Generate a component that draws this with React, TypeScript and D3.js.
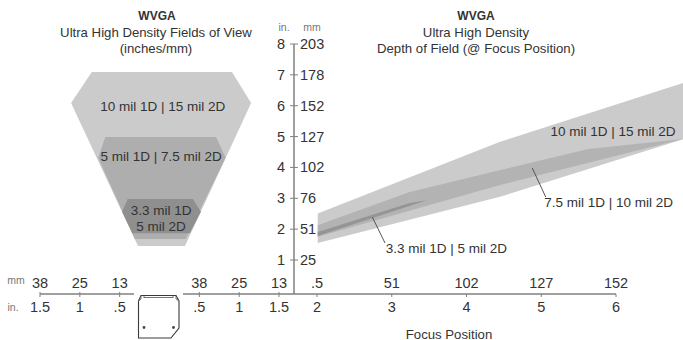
import React from "react";
import * as d3 from "d3";

const FONT = "'Liberation Sans', Arial, sans-serif";
const INK = "#333333";
const AXIS = "#808080";
const NUM = 14.5;
const TITLE = 13.2;

// Vertical scale (inches / mm)
const heightInches = [1, 2, 3, 4, 5, 6, 7, 8];
const heightMm = [25, 51, 76, 102, 127, 152, 178, 203];

// Horizontal field-of-view axis
const fovLeftInches = [-1.5, -1, -0.5];
const fovLeftInLabels = ["1.5", "1", ".5"];
const fovLeftMmLabels = ["38", "25", "13"];
const fovRightInches = [0.5, 1, 1.5];
const fovRightInLabels = [".5", "1", "1.5"];
const fovRightMmLabels = ["38", "25", "13"];

// Focus position axis
const focusInches = [2, 3, 4, 5, 6];
const focusInLabels = ["2", "3", "4", "5", "6"];
const focusMmLabels = [".5", "51", "102", "127", "152"];

type P = [number, number];

// Field of view polygons: [offset inches, height inches]
const fovWide: P[] = [[-0.85, 7.09], [0.91, 7.09], [1.15, 6.09], [0.32, 1.45], [-0.27, 1.45], [-1.11, 6.09]];
const fovMid: P[] = [[-0.68, 4.99], [0.71, 4.99], [0.83, 4.31], [0.33, 1.68], [-0.31, 1.68], [-0.77, 4.31]];
const fovNarrow: P[] = [[-0.4, 2.98], [0.42, 2.98], [0.52, 2.56], [0.38, 1.87], [-0.34, 1.87], [-0.47, 2.56]];

// Depth of field polygons: [focus inches, depth inches]
const dofWide: P[] = [[2.01, 2.51], [4.45, 4.83], [6.9, 6.74], [6.9, 4.92], [4.45, 3.05], [2.01, 1.55]];
const dofMid: P[] = [[2.01, 2.13], [3.24, 3.2], [5.63, 4.6], [6.9, 4.92], [4.45, 3.43], [2.01, 1.75]];
const dofNarrow: P[] = [[2.01, 1.91], [3.24, 2.85], [3.47, 2.94], [2.01, 1.78]];

const leaderNarrow: P[] = [[2.74, 2.39], [2.91, 1.55]];
const leaderMid: P[] = [[4.88, 3.98], [5.06, 3.04]];

const COLORS = { wide: "#cbcbcb", mid: "#aeaeae", narrow: "#8f8f8f", dofMid: "#b3b3b3", dofNarrow: "#959595" };

const y = d3.scaleLinear().domain([1, 8]).range([260, 44]);
const xFov = d3.scaleLinear().domain([-1.5, 1.5]).range([40, 279]);
const xFocus = d3.scaleLinear().domain([2, 6]).range([317, 616]);

const fovPath = d3.line<P>().x((d) => xFov(d[0])).y((d) => y(d[1]));
const dofPath = d3.line<P>().x((d) => xFocus(d[0])).y((d) => y(d[1]));

const AXIS_Y = 294;
const AXIS_X = 294;

function T(props: any) {
  const { size = 13.5, fill = INK, anchor = "middle", weight, children, x, y: yy } = props;
  return (
    <text x={x} y={yy} fontSize={size} fill={fill} textAnchor={anchor} fontWeight={weight} dominantBaseline="central">
      {children}
    </text>
  );
}

function Sensor() {
  return (
    <g transform="translate(138,295)" fill="none" stroke="#3a3a3a">
      <path d="M0.5 6 L3 0.5 L38 0.5 L41 6 L41 33 L33 43 L0.5 43 Z" strokeWidth={1.1} fill="#fff" />
      <path d="M3 0.5 L3 4 L0.5 6 M6 3 L6 1 M6 2.5 L35 2.5 M38 0.5 L38 4 L41 6 M35 3 L35 1" strokeWidth={0.9} stroke="#666" />
      <circle cx={6} cy={32.5} r={1.4} fill="#444" stroke="none" />
      <circle cx={35.5} cy={32.5} r={1.4} fill="#444" stroke="none" />
    </g>
  );
}

export default function App() {
  return (
    <svg
      width={683}
      height={340}
      viewBox="0 0 683 340"
      style={{ position: "fixed", left: 0, top: 0, background: "#fff" }}
      fontFamily={FONT}
    >
      {/* Left titles */}
      <T x={157} y={16} weight="bold" size={12}>WVGA</T>
      <T x={156} y={32} size={TITLE}>Ultra High Density Fields of View</T>
      <T x={156} y={48} size={TITLE}>(inches/mm)</T>

      {/* Right titles */}
      <T x={476} y={16} weight="bold" size={12}>WVGA</T>
      <T x={476} y={32} size={TITLE}>Ultra High Density</T>
      <T x={476} y={48} size={TITLE}>Depth of Field (@ Focus Position)</T>

      {/* Field of view */}
      <path d={fovPath(fovWide) + "Z"} fill={COLORS.wide} />
      <path d={fovPath(fovMid) + "Z"} fill={COLORS.mid} />
      <path d={fovPath(fovNarrow) + "Z"} fill={COLORS.narrow} />
      <T x={xFov(0.04)} y={y(5.99)}>10 mil 1D | 15 mil 2D</T>
      <T x={xFov(0.02)} y={y(4.34)}>5 mil 1D | 7.5 mil 2D</T>
      <T x={xFov(0.02)} y={y(2.62)}>3.3 mil 1D</T>
      <T x={xFov(0.02)} y={y(2.1)}>5 mil 2D</T>

      {/* Depth of field */}
      <path d={dofPath(dofWide) + "Z"} fill={COLORS.wide} />
      <path d={dofPath(dofMid) + "Z"} fill={COLORS.dofMid} />
      <path d={dofPath(dofNarrow) + "Z"} fill={COLORS.dofNarrow} />
      <path d={dofPath(leaderNarrow) ?? ""} stroke="#555" fill="none" />
      <path d={dofPath(leaderMid) ?? ""} stroke="#555" fill="none" />
      <T x={xFocus(5.96)} y={y(5.18)}>10 mil 1D | 15 mil 2D</T>
      <T x={xFocus(5.04)} y={y(2.85)} anchor="start">7.5 mil 1D | 10 mil 2D</T>
      <T x={xFocus(2.92)} y={y(1.36)} anchor="start">3.3 mil 1D | 5 mil 2D</T>

      {/* Vertical axis */}
      <line x1={AXIS_X} x2={AXIS_X} y1={y(8)} y2={AXIS_Y} stroke={AXIS} strokeWidth={1.5} />
      <T x={284} y={27} size={10.5} fill="#777">in.</T>
      <T x={312} y={27} size={10.5} fill="#777">mm</T>
      {heightInches.map((v, i) => (
        <g key={v}>
          <line x1={AXIS_X - 4} x2={AXIS_X + 4} y1={y(v)} y2={y(v)} stroke={AXIS} />
          <T x={285} y={y(v)} anchor="end" size={NUM}>{v}</T>
          <T x={300} y={y(v)} anchor="start" size={NUM}>{heightMm[i]}</T>
        </g>
      ))}

      {/* Horizontal axes */}
      <line x1={xFov(-1.5)} x2={134} y1={AXIS_Y} y2={AXIS_Y} stroke={AXIS} strokeWidth={1.5} />
      <line x1={183} x2={xFocus(6)} y1={AXIS_Y} y2={AXIS_Y} stroke={AXIS} strokeWidth={1.5} />
      <T x={16} y={280} size={10.5} fill="#777">mm</T>
      <T x={13} y={307} size={10.5} fill="#777">in.</T>
      {fovLeftInches.map((v, i) => (
        <g key={v}>
          <line x1={xFov(v)} x2={xFov(v)} y1={AXIS_Y - 2} y2={AXIS_Y + 3} stroke={AXIS} />
          <T x={xFov(v)} y={283} size={NUM}>{fovLeftMmLabels[i]}</T>
          <T x={xFov(v)} y={307} size={NUM}>{fovLeftInLabels[i]}</T>
        </g>
      ))}
      {fovRightInches.map((v, i) => (
        <g key={v}>
          <line x1={xFov(v)} x2={xFov(v)} y1={AXIS_Y - 2} y2={AXIS_Y + 3} stroke={AXIS} />
          <T x={xFov(v)} y={283} size={NUM}>{fovRightMmLabels[i]}</T>
          <T x={xFov(v)} y={307} size={NUM}>{fovRightInLabels[i]}</T>
        </g>
      ))}
      {focusInches.map((v, i) => (
        <g key={v}>
          <line x1={xFocus(v)} x2={xFocus(v)} y1={AXIS_Y} y2={AXIS_Y + 3} stroke={AXIS} />
          <T x={xFocus(v)} y={283} size={NUM}>{focusMmLabels[i]}</T>
          <T x={xFocus(v)} y={307} size={NUM}>{focusInLabels[i]}</T>
        </g>
      ))}
      <T x={449} y={334} size={TITLE}>Focus Position</T>

      <Sensor />
    </svg>
  );
}
